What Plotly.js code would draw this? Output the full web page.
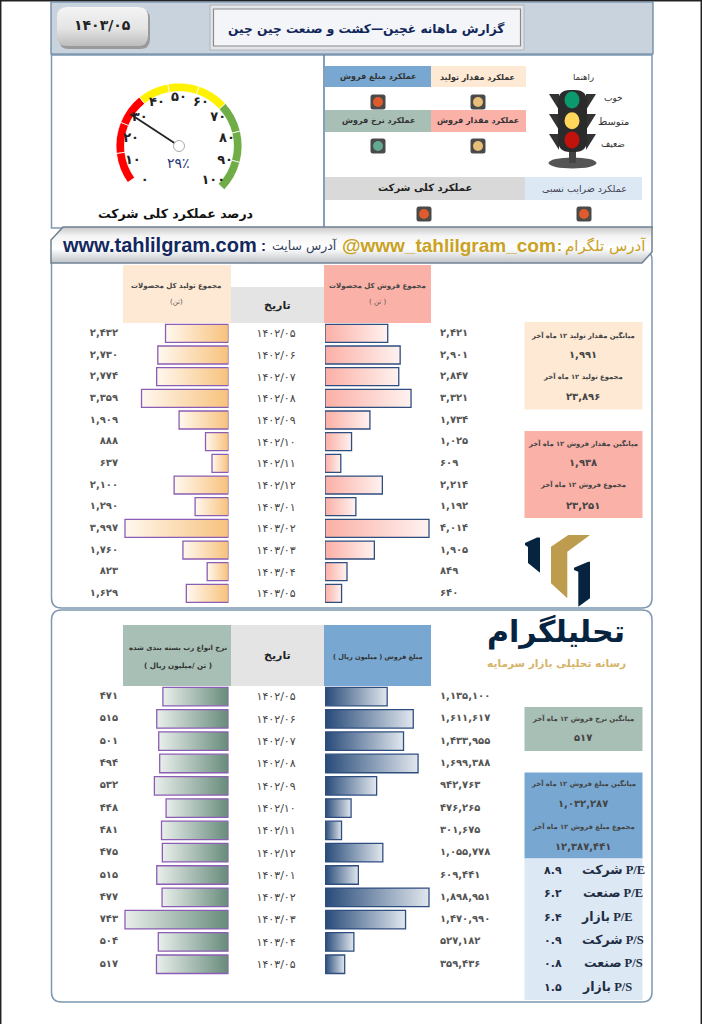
<!DOCTYPE html>
<html><head><meta charset="utf-8">
<script src="https://cdn.plot.ly/plotly-3.0.1.min.js"></script>
<style>html,body{margin:0;padding:0;background:#fff}#g{width:702px;height:1024px}</style></head>
<body><div id="g"></div>
<script>
// ---------- DATA ----------
const dates = ['۱۴۰۲/۰۵','۱۴۰۲/۰۶','۱۴۰۲/۰۷','۱۴۰۲/۰۸','۱۴۰۲/۰۹','۱۴۰۲/۱۰','۱۴۰۲/۱۱','۱۴۰۲/۱۲','۱۴۰۳/۰۱','۱۴۰۳/۰۲','۱۴۰۳/۰۳','۱۴۰۳/۰۴','۱۴۰۳/۰۵'];
const production = [2432,2730,2774,3359,1909,888,637,2100,1290,3997,1760,823,1629];
const salesQty   = [2421,2901,2847,3321,1734,1025,609,2214,1192,4014,1905,849,640];
const priceRate  = [471,515,501,494,532,448,481,475,515,477,743,504,517];
const salesValue = [1135100,1611617,1433955,1699388,942763,476265,301675,1055778,609441,1898951,1470990,527182,359436];
const gaugeValue = 29;
const gaugeTicks = [0,10,20,30,40,50,60,70,80,90,100];
const gaugeBandColors = ['#FF0000','#FF0000','#FF0000','#FFF200','#FFF200','#FFF200','#70AD47','#70AD47','#70AD47'];
const ratioRows = [['شرکت P/E','8.9'],['صنعت P/E','6.2'],['بازار P/E','6.4'],['شرکت P/S','0.9'],['صنعت P/S','0.8'],['بازار P/S','1.5']];

// ---------- HELPERS ----------
const W=702,H=1024;
const FA='DejaVu Sans';
const fx=x=>x/W, fy=y=>1-y/H;
const fa=s=>String(s).replace(/\d/g,d=>'۰۱۲۳۴۵۶۷۸۹'[d]);
const grp=n=>fa(n.toLocaleString('en-US'));
const shapes=[],ann=[];
function rect(x0,y0,x1,y1,fill,line,lw){shapes.push({type:'rect',xref:'paper',yref:'paper',x0:fx(x0),x1:fx(x1),y0:fy(y0),y1:fy(y1),fillcolor:fill||'rgba(0,0,0,0)',line:{color:line||'rgba(0,0,0,0)',width:line?(lw||1):0},layer:'below'});}
function path(d,fill,line,lw){shapes.push({type:'path',xref:'paper',yref:'paper',path:d,fillcolor:fill||'rgba(0,0,0,0)',line:{color:line||'rgba(0,0,0,0)',width:line?(lw||1):0},layer:'below'});}
function P(c,x,y){return c+' '+fx(x)+','+fy(y);}
function Q(x1,y1,x,y){return 'Q '+fx(x1)+','+fy(y1)+' '+fx(x)+','+fy(y);}
function rr(x0,y0,x1,y1,r){return [P('M',x0+r,y0),P('L',x1-r,y0),Q(x1,y0,x1,y0+r),P('L',x1,y1-r),Q(x1,y1,x1-r,y1),P('L',x0+r,y1),Q(x0,y1,x0,y1-r),P('L',x0,y0+r),Q(x0,y0,x0+r,y0),'Z'].join(' ');}
function poly(pts){return pts.map((p,i)=>P(i?'L':'M',p[0],p[1])).join(' ')+' Z';}
function ell(cx,cy,rx,ry,fill,line,lw){shapes.push({type:'circle',xref:'paper',yref:'paper',x0:fx(cx-rx),x1:fx(cx+rx),y0:fy(cy-ry),y1:fy(cy+ry),fillcolor:fill,line:{color:line||'rgba(0,0,0,0)',width:line?(lw||1):0},layer:'below'});}
function T(x,y,t,size,color,bold,fam,anchor){ann.push({xref:'paper',yref:'paper',x:fx(x),y:fy(y),text:t,showarrow:false,xanchor:anchor||'center',yanchor:'middle',align:'center',borderpad:0,font:{family:fam||FA,size:size,color:color||'#333',weight:bold?'bold':'normal'}});}

// ---------- FRAME ----------
const FR='#7E98B2', FD='#5F7F9E';
shapes.push({type:'line',xref:'paper',yref:'paper',x0:fx(0.7),x1:fx(0.7),y0:0,y1:1,line:{color:'#222',width:1.5},layer:'below'});
shapes.push({type:'line',xref:'paper',yref:'paper',x0:fx(701.3),x1:fx(701.3),y0:0,y1:1,line:{color:'#222',width:1.5},layer:'below'});
shapes.push({type:'line',xref:'paper',yref:'paper',x0:0,x1:1,y0:fy(0.7),y1:fy(0.7),line:{color:'#222',width:1.5},layer:'below'});
// section frames
path(rr(51.5,250,652,608,10),'#ffffff',FR,1.5);
path(rr(51.5,610,652,1002,10),'#ffffff',FR,1.5);
rect(51.5,55,652,228,'#ffffff',FR,1.5);
shapes.push({type:'line',xref:'paper',yref:'paper',x0:fx(324),x1:fx(324),y0:fy(55),y1:fy(228),line:{color:FD,width:1.5},layer:'below'});
// header band
rect(51,2,653,54,'#C8D3DD',FD,1.2);
path(rr(59,9,150,49,10),'#9a9a9a');
path(rr(57,7,148,46,10),'rgb(1,1,1)');
T(103,25,'۱۴۰۳/۰۵',14,'#222',true);
rect(210,5,524,50,'#E3E5E8','#AEB4BA',1);
rect(213.5,9,520.5,46,'#F3F5F8','#8A8A8A',1.2);
T(367,28,'گزارش ماهانه غچین—کشت و صنعت چین چین',12.2,'#10265A',true);

// address banner
path(poly([[51,263],[51,240],[63,227],[652,227],[652,252],[642,263]]),'rgb(2,2,2)','#6F8092',1.5);
T(159,245,'www.tahlilgram.com',20,'#13285E',true,'Liberation Sans');
T(263,245,':',15,'#13285E',true,'Liberation Sans');
T(304,246,'آدرس سایت',12.5,'#33415E');
T(449,245,'@www_tahlilgram_com',19,'#C9A21F',true,'Liberation Sans');
T(559,245,':',15,'#C9A21F',true,'Liberation Sans');
T(605,246,'آدرس تلگرام',15,'#C9A21F');

// legend cells
const CREAM='#FDE9D4',SALMON='#FAB1A8',SAGE='#A7BFB5',BLUE='#78A8D2',GRAY='#E4E4E4',PALE='#DCE8F4';
rect(431,66,526,87,CREAM); T(478,77,'عملکرد مقدار تولید',8,'#333',true);
rect(325,66,431,87,BLUE);  T(378,77,'عملکرد مبلغ فروش',8,'#333',true);
rect(431,110,526,132,SALMON); T(478,121,'عملکرد مقدار فروش',8,'#333',true);
rect(325,110,431,132,SAGE);   T(378,121,'عملکرد نرخ فروش',8,'#333',true);
rect(325,177,525,200,'#D9D9D9'); T(425,188,'عملکرد کلی شرکت',10,'#222',true);
rect(525,177,642,200,PALE); T(584,188,'عملکرد ضرایب نسبی',9.5,'#445');
[[378,102,'#DF5A2C'],[478,102,'#E9BE78'],[378,146,'#62A892'],[478,146,'#E9BE78'],[424,214,'#DF5A2C'],[584,214,'#DF5A2C']].forEach(a=>{
  path(rr(a[0]-7.5,a[1]-7.5,a[0]+7.5,a[1]+7.5,2.5),'#4A4A4A');
  ell(a[0],a[1],5,5,a[2]);
});
// traffic light
[[90],[110],[130]].forEach(a=>{
  path(poly([[549,a[0]+4],[559,a[0]+4],[559,a[0]+20]]),'#333');
  path(poly([[596,a[0]+4],[586,a[0]+4],[586,a[0]+20]]),'#333');
});
ell(572.5,163,24,5.5,'#555');
rect(569,145,576,163,'#444');
path(rr(558,90,587,152,12),'#2B2B2B');
ell(572,100,7.5,8.5,'#0B9A6D'); ell(572,120.7,7.5,8.5,'#FFD75A'); ell(572,140,7.5,8.5,'#C1120B');
T(583,77,'راهنما',8.5,'#333'); T(613,98,'خوب',9,'#333'); T(613,121,'متوسط',10,'#333'); T(613,144,'ضعیف',9,'#333');

// section headers
rect(123,265,231,323,CREAM); rect(231,287,324,323,GRAY); rect(324,265,431,323,SALMON);
T(176,286,'مجموع تولید کل محصولات',7,'#444',true); T(176,302,'\u200F(تن)\u200F',7,'#555');
T(277,305,'تاریخ',11,'#222',true);
T(377,286,'مجموع فروش کل محصولات',7,'#444',true); T(377,302,'\u200F( تن )\u200F',7,'#555');
rect(123,625,231,686,SAGE); rect(231,625,324,686,GRAY); rect(324,625,431,686,BLUE);
T(178,648,'نرخ انواع رب بسته بندی شده',6.9,'#333',true); T(178,665,'\u200F( تن /میلیون ریال )\u200F',7.2,'#333',true);
T(277,655,'تاریخ',11,'#222',true);
T(377,657,'\u200Fمبلغ فروش ( میلیون ریال )\u200F',6.6,'#333',true);

// stat panels
const TX='#444', SZ=6.8;
rect(524.5,322,642.5,409.5,CREAM);
T(583,335,'میانگین مقدار تولید ۱۲ ماه آخر',SZ,TX,true); T(583,354,'۱,۹۹۱',10,TX,true);
T(583,376,'مجموع تولید ۱۲ ماه آخر',SZ,TX,true); T(583,396,'۲۳,۸۹۶',10,TX,true);
rect(524.5,431,642.5,518,SALMON);
T(583,443,'میانگین مقدار فروش ۱۲ ماه آخر',SZ,TX,true); T(583,462,'۱,۹۳۸',10,TX,true);
T(583,484,'مجموع فروش ۱۲ ماه آخر',SZ,TX,true); T(583,505,'۲۳,۲۵۱',10,TX,true);
rect(524.5,707,642.5,751,SAGE);
T(583,718,'میانگین نرخ فروش ۱۲ ماه آخر',SZ,TX,true); T(583,737,'۵۱۷',10,TX,true);
rect(524.5,772.5,642.5,858.5,BLUE);
T(583,783,'میانگین مبلغ فروش ۱۲ ماه آخر',SZ,TX,true); T(583,803,'۱,۰۳۲,۲۸۷',10,TX,true);
T(583,826,'مجموع مبلغ فروش ۱۲ ماه آخر',SZ,TX,true); T(583,846,'۱۲,۳۸۷,۴۴۱',10,TX,true);
rect(524.5,858.5,642.5,1000,PALE);
ratioRows.forEach((r,i)=>{const y=[870,893,917,940,963,987][i];
  T(i%3===2?607:613,y,r[0],12.5,'#1F2D44',true,'Liberation Serif, DejaVu Sans');
  T(553,y,fa(r[1]),11,'#1F2D44',true);
});

// logo
path(poly([[525,543],[537,537.5],[540,537.5],[540,572.7],[528,563],[528,547],[525,545]]),'#06233F');
path(poly([[551,546.7],[568.3,535],[590,535],[567.3,551.7],[567.3,598.3],[551,583.3]]),'#BE9C4D');
path(poly([[574,567.7],[588.3,561.7],[590,561.7],[590,598.3],[578.3,606.7],[578.3,571.7],[574,570]]),'#06233F');
T(556,632,'تحلیلگرام',30,'#06233F',true);
T(556,663,'رسانه تحلیلی بازار سرمایه',10.6,'#D6B368',true);

// gauge labels
T(175,213,'درصد عملکرد کلی شرکت',12.5,'#111',true);
T(178,163,fa(gaugeValue)+'٪',14,'#1F3A78');

// ---------- CHART ----------
const rows1=[322.5,604.2], rows2=[685.4,975.4];
const yaxis=(rows,extra)=>Object.assign({domain:[fy(rows[1]),fy(rows[0])],type:'category',categoryorder:'array',categoryarray:dates,range:[12.5,-0.5],visible:false,showgrid:false,zeroline:false,fixedrange:true},extra||{});
const dateAxis={visible:true,side:'right',ticks:'',showline:false,ticklabelstandoff:27,tickfont:{family:FA,size:11,color:'#444'},tickmode:'array',tickvals:dates,ticktext:dates};
const xaxis=(x0,x1,rng,yname)=>({domain:[fx(x0),fx(x1)],range:rng,visible:false,showgrid:false,zeroline:false,anchor:yname,fixedrange:true});
const bar=(vals,ax,ay,lc)=>({type:'bar',orientation:'h',x:vals,y:dates,xaxis:ax,yaxis:ay,width:0.83,marker:{color:'#ccc',line:{color:lc,width:1.3}},hoverinfo:'skip',showlegend:false});
const lbl=(vals,ax,ay,x,pos)=>({type:'scatter',mode:'text',x:vals.map(()=>x),y:dates,xaxis:ax,yaxis:ay,text:vals.map(grp),textposition:pos,textfont:{family:FA,size:10,color:'#555',weight:'bold'},cliponaxis:false,hoverinfo:'skip',showlegend:false});
const PU='#8C5DB4', NV='#2F4E80';

const kP=3997/103.5, kS=4014/104, kR=743/103.5, kV=1898951/104;
const data=[
 bar(production,'x','y',PU), bar(salesQty,'x2','y2',NV), bar(priceRate,'x3','y3',PU), bar(salesValue,'x4','y4',NV),
 lbl(production,'x','y',(228.5-118)*kP,'middle left'),
 lbl(salesQty,'x2','y2',(440-325)*kS,'middle right'),
 lbl(priceRate,'x3','y3',(228.5-118)*kR,'middle left'),
 lbl(salesValue,'x4','y4',(440-325)*kV,'middle right'),
];
// gauge through the polar subplot
const arcStart=234.5, arcSpan=259.5, seg=arcSpan/gaugeBandColors.length;
const dial=v=>225+v*2.7;
data.push({type:'barpolar',subplot:'polar',r:gaugeBandColors.map(()=>0.135),base:gaugeBandColors.map(()=>0.865),theta:gaugeBandColors.map((c,i)=>arcStart+(i+0.5)*seg),width:gaugeBandColors.map(()=>seg),marker:{color:gaugeBandColors,line:{color:'#fff',width:0.8}},hoverinfo:'skip',showlegend:false});
data.push({type:'scatterpolar',subplot:'polar',mode:'text',r:gaugeTicks.map(()=>0.77),theta:gaugeTicks.map(dial),text:gaugeTicks.map(fa),textfont:{family:FA,size:13,color:'#222',weight:'bold'},textposition:'middle center',hoverinfo:'skip',showlegend:false});
data.push({type:'scatterpolar',subplot:'polar',mode:'lines',r:[0,0.92],theta:[dial(gaugeValue),dial(gaugeValue)],line:{color:'#222',width:1.8},hoverinfo:'skip',showlegend:false});
data.push({type:'scatterpolar',subplot:'polar',mode:'markers',r:[0],theta:[0],marker:{size:11,color:'#fff',line:{color:'#AAA',width:1}},hoverinfo:'skip',showlegend:false});

const layout={width:W,height:H,margin:{l:0,r:0,t:0,b:0},paper_bgcolor:'#fff',plot_bgcolor:'rgba(0,0,0,0)',showlegend:false,shapes:shapes,annotations:ann,
 xaxis:xaxis(60,228.5,[168.5*kP,0],'y'),
 xaxis2:xaxis(325,510,[0,185*kS],'y2'),
 xaxis3:xaxis(60,228.5,[168.5*kR,0],'y3'),
 xaxis4:xaxis(325,510,[0,185*kV],'y4'),
 yaxis:yaxis(rows1,Object.assign({anchor:'x'},dateAxis)),
 yaxis2:yaxis(rows1,{anchor:'x2'}),
 yaxis3:yaxis(rows2,Object.assign({anchor:'x3'},dateAxis)),
 yaxis4:yaxis(rows2,{anchor:'x4'}),
 bargap:0.17,
 polar:{domain:{x:[fx(116),fx(242)],y:[fy(209),fy(83)]},bgcolor:'rgba(0,0,0,0)',radialaxis:{visible:false,range:[0,1]},angularaxis:{visible:false,rotation:90,direction:'clockwise'},barmode:'overlay'}
};
Plotly.newPlot('g',data,layout,{staticPlot:true,displayModeBar:false}).then(gd=>{
  const svg=gd.querySelector('svg.main-svg');
  const ns='http://www.w3.org/2000/svg';
  const defs=svg.querySelector('defs')||svg.insertBefore(document.createElementNS(ns,'defs'),svg.firstChild);
  function grad(id,stops,vert){const g=document.createElementNS(ns,'linearGradient');g.setAttribute('id',id);g.setAttribute('x1','0');g.setAttribute('y1','0');g.setAttribute('x2',vert?'0':'1');g.setAttribute('y2',vert?'1':'0');
    stops.forEach(s=>{const t=document.createElementNS(ns,'stop');t.setAttribute('offset',s[0]);t.setAttribute('stop-color',s[1]);g.appendChild(t);});defs.appendChild(g);}
  grad('gP',[[0,'#FFF8EF'],[1,'#F7C27C']]);
  grad('gS',[[0,'#FBAFA5'],[1,'#FFF2F0']]);
  grad('gR',[[0,'#E9EFEC'],[1,'#678B7B']]);
  grad('gV',[[0,'#274A78'],[1,'#E1E7EE']]);
  grad('gBox',[[0,'#F4F4F4'],[0.55,'#E4E4E4'],[1,'#BDBDBD']],true);
  grad('gBan',[[0,'#C8C8C8'],[0.25,'#F4F4F4'],[0.6,'#FFFFFF'],[1,'#BFC3C7']],true);
  const ids=['gP','gS','gR','gV'];
  gd.querySelectorAll('.cartesianlayer .barlayer .trace').forEach((tr,i)=>{if(!ids[i])return;tr.querySelectorAll('.point path').forEach(p=>{p.style.fill='url(#'+ids[i]+')';});});
  gd.querySelectorAll('.shapelayer path').forEach(p=>{
    if(p.style.fill==='rgb(1, 1, 1)')p.style.fill='url(#gBox)';
    if(p.style.fill==='rgb(2, 2, 2)')p.style.fill='url(#gBan)';
  });
});
</script></body></html>
